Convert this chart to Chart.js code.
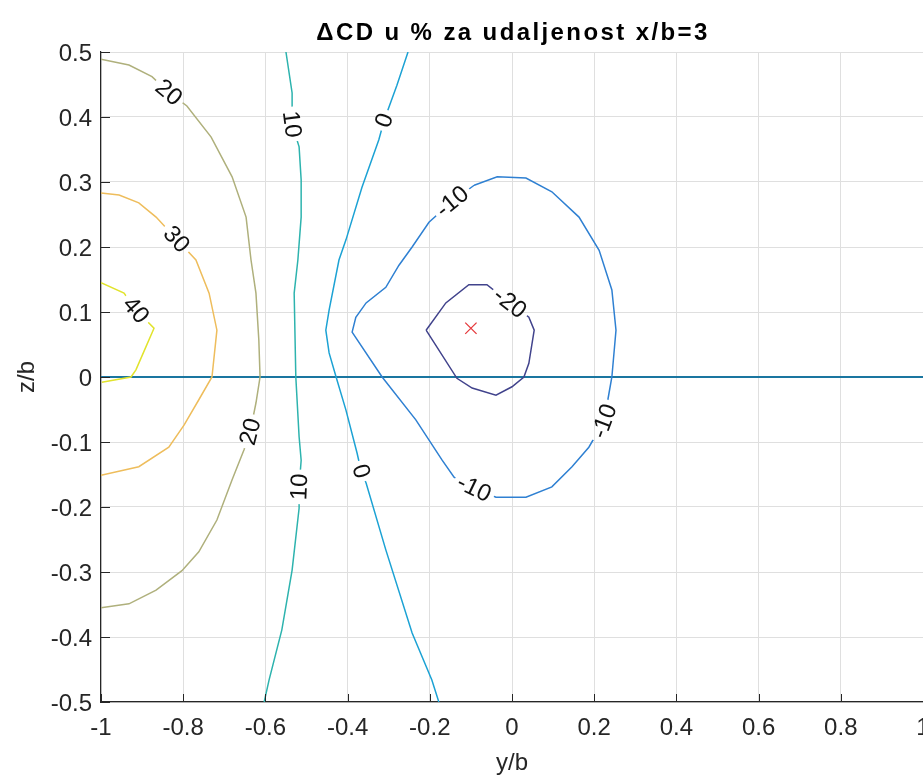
<!DOCTYPE html>
<html>
<head>
<meta charset="utf-8">
<title>ΔCD u % za udaljenost x/b=3</title>
<script src="https://cdn.jsdelivr.net/npm/chart.js@4.4.1/dist/chart.umd.min.js"></script>
<style>
  html, body { margin: 0; padding: 0; background: #fff; overflow: hidden; }
  #wrap { width: 923px; height: 780px; position: relative; }
  #contourChart { display: block; width: 923px; height: 780px; }
</style>
</head>
<body>
<div id="wrap"><canvas id="contourChart" width="923" height="780"></canvas></div>
<script>
// Tick labels of the two axes
const xTickLabels = ['-1', '-0.8', '-0.6', '-0.4', '-0.2', '0', '0.2', '0.4', '0.6', '0.8', '1'];
const yTickLabels = ['-0.5', '-0.4', '-0.3', '-0.2', '-0.1', '0', '0.1', '0.2', '0.3', '0.4', '0.5'];

// Contour lines, [y/b, z/b] pairs
const contour40 = [[-1.0, 0.145], [-0.944, 0.129], [-0.915, 0.103], [-0.871, 0.075], [-0.891, 0.046],
  [-0.915, 0.011], [-0.927, 0], [-0.998, -0.008]];
const contour30 = [[-1.0, 0.283], [-0.956, 0.28], [-0.908, 0.268], [-0.866, 0.246], [-0.816, 0.212],
  [-0.769, 0.18], [-0.737, 0.129], [-0.718, 0.072], [-0.73, 0], [-0.762, -0.035], [-0.798, -0.074],
  [-0.835, -0.108], [-0.908, -0.138], [-1.0, -0.151]];
const contour20 = [[-1.0, 0.489], [-0.932, 0.48], [-0.876, 0.462], [-0.835, 0.438], [-0.791, 0.417],
  [-0.732, 0.369], [-0.681, 0.308], [-0.647, 0.246], [-0.635, 0.18], [-0.623, 0.129], [-0.616, 0.057],
  [-0.613, 0], [-0.623, -0.04], [-0.637, -0.084], [-0.652, -0.112], [-0.681, -0.158], [-0.718, -0.22],
  [-0.762, -0.269], [-0.803, -0.298], [-0.866, -0.328], [-0.932, -0.349], [-1.0, -0.355]];
const contour10 = [[-0.55, 0.5], [-0.535, 0.437], [-0.535, 0.389], [-0.518, 0.354], [-0.513, 0.303],
  [-0.513, 0.246], [-0.521, 0.18], [-0.53, 0.129], [-0.526, 0], [-0.518, -0.092], [-0.513, -0.128],
  [-0.518, -0.169], [-0.518, -0.202], [-0.535, -0.297], [-0.56, -0.389], [-0.591, -0.466], [-0.603, -0.5]];
const contour0 = [[-0.253, 0.5], [-0.28, 0.449], [-0.311, 0.395], [-0.324, 0.365], [-0.365, 0.292],
  [-0.404, 0.211], [-0.421, 0.18], [-0.445, 0.103], [-0.453, 0.072], [-0.445, 0.037], [-0.428, 0],
  [-0.404, -0.051], [-0.377, -0.117], [-0.367, -0.145], [-0.355, -0.163], [-0.307, -0.266],
  [-0.243, -0.394], [-0.195, -0.466], [-0.178, -0.5]];
const contourM10 = [[-0.092, 0.295], [-0.036, 0.308], [0.034, 0.306], [0.097, 0.285], [0.163, 0.246],
  [0.212, 0.195], [0.243, 0.134], [0.253, 0.072], [0.243, 0], [0.236, -0.025], [0.224, -0.068],
  [0.187, -0.108], [0.146, -0.138], [0.097, -0.169], [0.034, -0.185], [-0.039, -0.185], [-0.092, -0.171],
  [-0.141, -0.154], [-0.17, -0.128], [-0.234, -0.066], [-0.316, 0], [-0.389, 0.069], [-0.38, 0.092],
  [-0.355, 0.114], [-0.307, 0.138], [-0.275, 0.172], [-0.243, 0.2], [-0.202, 0.238], [-0.146, 0.27],
  [-0.092, 0.295]];
const contourM20 = [[-0.209, 0.072], [-0.161, 0.114], [-0.105, 0.142], [-0.061, 0.142], [-0.005, 0.114],
  [0.041, 0.092], [0.054, 0.072], [0.041, 0.021], [0.029, 0], [0, -0.015], [-0.039, -0.028],
  [-0.097, -0.017], [-0.134, -0.002], [-0.209, 0.072]];

// Horizontal line at z/b = 0 and the marked point
const zeroLine = [[-1, 0], [1, 0]];
const markPoint = [[-0.1, 0.075]];

// Contour labels: text, line, index of the point where the label sits
const contourLabels = [
  ['40', contour40, 2],
  ['30', contour30, 4],
  ['20', contour20, 3], ['20', contour20, 13],
  ['10', contour10, 2], ['10', contour10, 11],
  ['0', contour0, 2], ['0', contour0, 13],
  ['-10', contourM10, 28], ['-10', contourM10, 10], ['-10', contourM10, 16],
  ['-20', contourM20, 4]
];

const titleText = '\u0394CD u % za udaljenost x/b=3';
const fontFamily = '"Liberation Sans", Arial, Helvetica, sans-serif';
const axisColor = '#262626';

function toPoints(arr) {
  return arr.map(p => ({ x: p[0], y: p[1] }));
}

function contourSet(arr, color) {
  return {
    data: toPoints(arr),
    showLine: true,
    borderColor: color,
    borderWidth: 1.5,
    pointRadius: 0,
    pointHoverRadius: 0,
    tension: 0,
    fill: false,
    isContour: true
  };
}

// where labels sit, in pixels, with the angle of the line there
function labelBoxes(chart) {
  const xs = chart.scales.x, ys = chart.scales.y;
  const ctx = chart.ctx;
  ctx.save();
  ctx.font = '24px ' + fontFamily;
  const boxes = contourLabels.map(([text, line, i]) => {
    const px = v => ({ x: xs.getPixelForValue(v[0]), y: ys.getPixelForValue(v[1]) });
    const c = px(line[i]);
    const a = px(line[i - 1]);
    const b = px(line[i + 1]);
    let ang = Math.atan2(b.y - a.y, b.x - a.x);
    if (ang > Math.PI / 2) ang -= Math.PI;
    if (ang < -Math.PI / 2) ang += Math.PI;
    const w = ctx.measureText(text).width;
    return { text, x: c.x, y: c.y, ang, w: w + 8, h: 18 };
  });
  ctx.restore();
  return boxes;
}

// cut gaps in the contour lines where the labels go, then write the labels
const contourLabelPlugin = {
  id: 'contourLabelPlugin',
  beforeDatasetDraw(chart, args) {
    if (!chart.data.datasets[args.index].isContour) return;
    const ctx = chart.ctx;
    const boxes = labelBoxes(chart);
    ctx.save();
    ctx.beginPath();
    ctx.rect(0, 0, chart.width, chart.height);
    boxes.forEach(bx => {
      const c = Math.cos(bx.ang), s = Math.sin(bx.ang);
      const hw = bx.w / 2, hh = bx.h / 2;
      const corners = [[-hw, -hh], [hw, -hh], [hw, hh], [-hw, hh]].map(([u, v]) =>
        [bx.x + u * c - v * s, bx.y + u * s + v * c]);
      ctx.moveTo(corners[0][0], corners[0][1]);
      for (let k = 1; k < 4; k++) ctx.lineTo(corners[k][0], corners[k][1]);
      ctx.closePath();
    });
    ctx.clip('evenodd');
  },
  afterDatasetDraw(chart, args) {
    if (!chart.data.datasets[args.index].isContour) return;
    chart.ctx.restore();
  },
  afterDatasetsDraw(chart) {
    const ctx = chart.ctx;
    const boxes = labelBoxes(chart);
    ctx.save();
    ctx.font = '24px ' + fontFamily;
    ctx.fillStyle = '#111';
    ctx.textAlign = 'center';
    ctx.textBaseline = 'middle';
    boxes.forEach(bx => {
      ctx.save();
      ctx.translate(bx.x, bx.y);
      ctx.rotate(bx.ang);
      ctx.fillText(bx.text, 0, 1);
      ctx.restore();
    });
    ctx.restore();
  }
};

// MATLAB style tick marks pointing into the axes
const innerTicksPlugin = {
  id: 'innerTicksPlugin',
  afterDatasetsDraw(chart) {
    const { ctx, chartArea } = chart;
    const xs = chart.scales.x, ys = chart.scales.y;
    ctx.save();
    ctx.strokeStyle = axisColor;
    ctx.lineWidth = 1;
    ctx.beginPath();
    xs.ticks.forEach(t => {
      const p = Math.round(xs.getPixelForValue(t.value)) + 0.5;
      ctx.moveTo(p, chartArea.bottom);
      ctx.lineTo(p, chartArea.bottom - 8);
    });
    ys.ticks.forEach(t => {
      const p = Math.round(ys.getPixelForValue(t.value)) + 0.5;
      ctx.moveTo(chartArea.left, p);
      ctx.lineTo(chartArea.left + 9, p);
    });
    ctx.stroke();
    ctx.restore();
  }
};

// title above the axes
const titlePlugin = {
  id: 'titlePlugin',
  afterDraw(chart) {
    const { ctx, chartArea } = chart;
    ctx.save();
    ctx.font = 'bold 24px ' + fontFamily;
    if ('letterSpacing' in ctx) ctx.letterSpacing = '2.4px';
    ctx.fillStyle = '#000';
    ctx.textAlign = 'center';
    ctx.textBaseline = 'alphabetic';
    ctx.fillText(titleText, (chartArea.left + chartArea.right) / 2 + 1, 40);
    ctx.restore();
  }
};

new Chart(document.getElementById('contourChart'), {
  type: 'scatter',
  data: {
    datasets: [
      contourSet(contour40, '#e1e32c'),
      contourSet(contour30, '#eebd5c'),
      contourSet(contour20, '#afb07c'),
      contourSet(contour10, '#2db3ae'),
      contourSet(contour0, '#1ca2d4'),
      contourSet(contourM10, '#2f80d2'),
      contourSet(contourM20, '#41438c'),
      {
        data: toPoints(zeroLine),
        showLine: true,
        borderColor: '#1a76a0',
        borderWidth: 2,
        pointRadius: 0,
        pointHoverRadius: 0
      },
      {
        data: toPoints(markPoint),
        showLine: false,
        pointStyle: 'crossRot',
        pointRadius: 8,
        pointHoverRadius: 8,
        borderColor: '#e5393c',
        backgroundColor: '#e5393c',
        borderWidth: 1.3
      }
    ]
  },
  options: {
    responsive: false,
    animation: false,
    events: [],
    // no automatic room for point overflow: the axes run to the right edge, "1" gets cut like the original
    layout: { autoPadding: false, padding: { top: 52, left: 0, right: 0, bottom: 0 } },
    plugins: {
      legend: { display: false },
      tooltip: { enabled: false },
      title: { display: false }
    },
    scales: {
      x: {
        type: 'linear',
        min: -1,
        max: 1,
        ticks: {
          stepSize: 0.2,
          color: axisColor,
          font: { family: fontFamily, size: 24 },
          padding: 12,
          maxRotation: 0,
          autoSkip: false,
          callback: (v, i) => xTickLabels[i]
        },
        grid: { color: '#dfdfdf', drawTicks: false, lineWidth: 1 },
        border: { display: true, color: axisColor, width: 1.2 },
        title: {
          display: true,
          text: 'y/b',
          color: axisColor,
          font: { family: fontFamily, size: 24 },
          padding: { top: 0, bottom: 2 }
        },
        afterFit(scale) {
          scale.height = 78;
          scale.paddingLeft = 0;
          scale.paddingRight = 0;
        }
      },
      y: {
        type: 'linear',
        min: -0.5,
        max: 0.5,
        ticks: {
          stepSize: 0.1,
          color: axisColor,
          font: { family: fontFamily, size: 24 },
          padding: 9,
          labelOffset: 2,
          autoSkip: false,
          callback: (v, i) => yTickLabels[i]
        },
        grid: { color: '#dfdfdf', drawTicks: false, lineWidth: 1 },
        border: { display: true, color: axisColor, width: 1.2 },
        title: {
          display: true,
          text: 'z/b',
          color: axisColor,
          font: { family: fontFamily, size: 24 },
          padding: { top: 13, bottom: 0 }
        },
        afterFit(scale) {
          scale.width = 101;
          scale.paddingTop = 0;
          scale.paddingBottom = 0;
        }
      }
    }
  },
  plugins: [contourLabelPlugin, innerTicksPlugin, titlePlugin]
});
</script>
</body>
</html>
